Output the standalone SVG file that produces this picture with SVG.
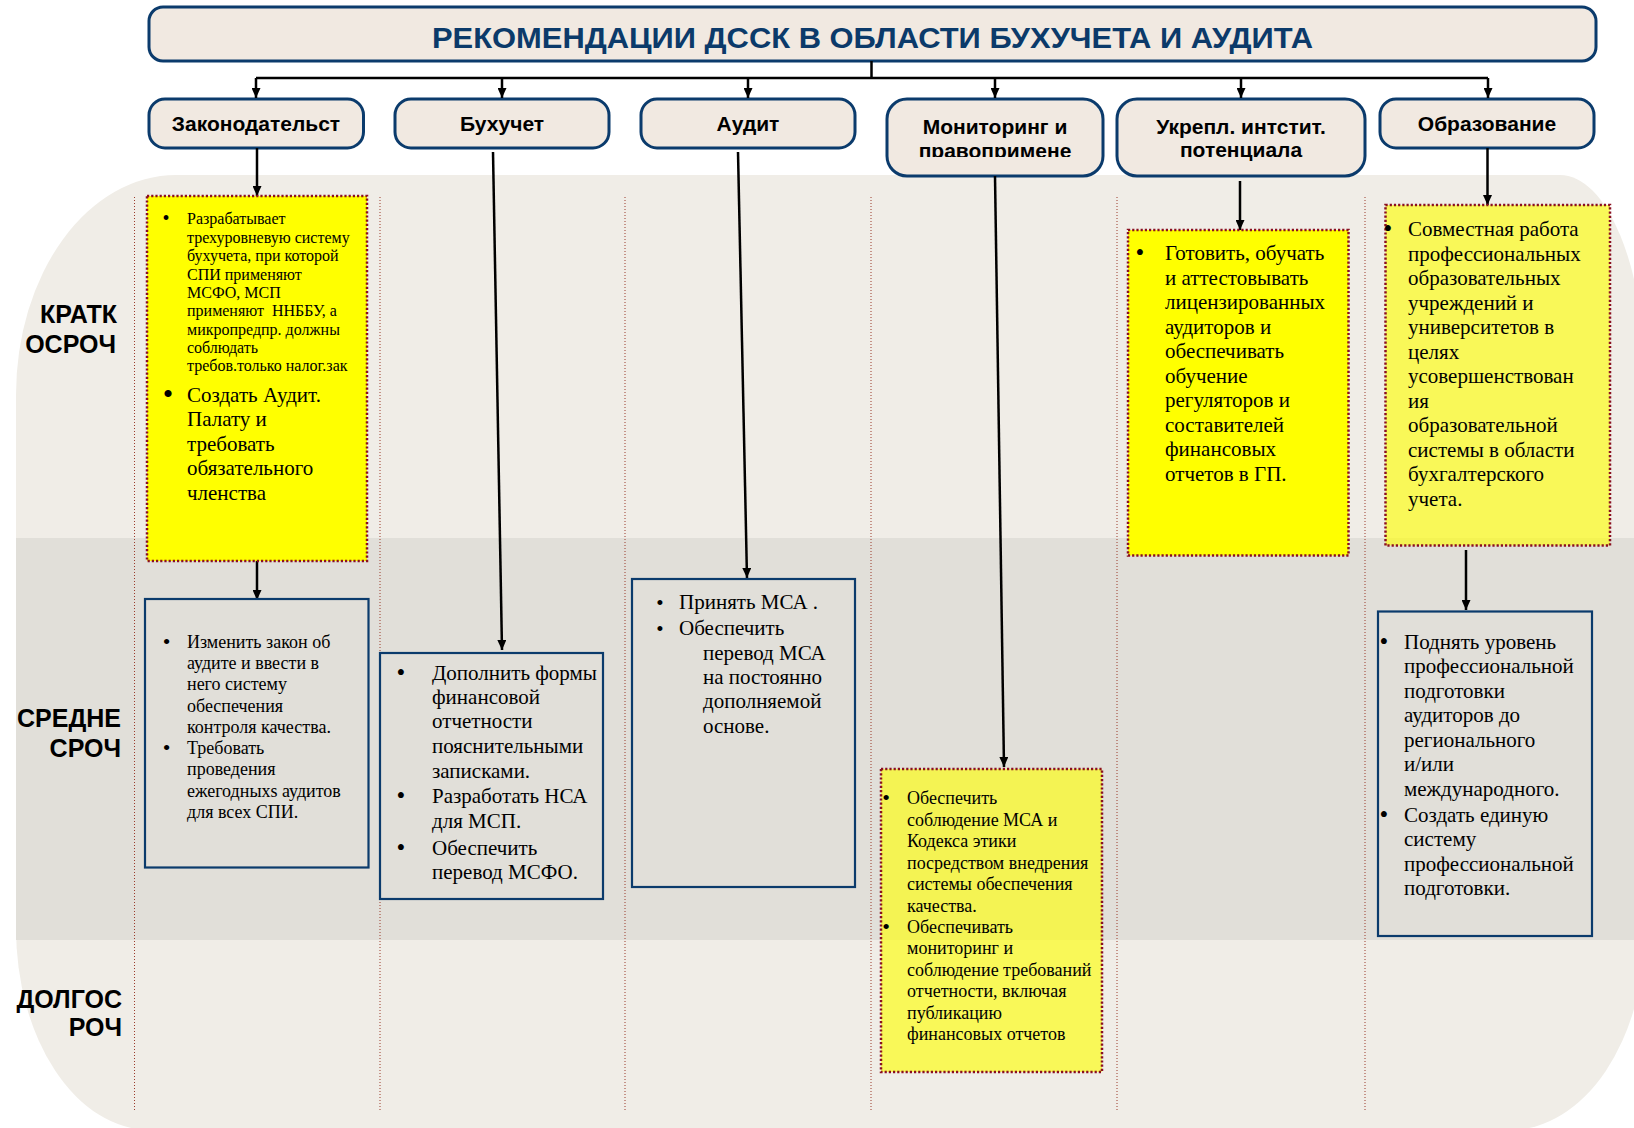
<svg xmlns="http://www.w3.org/2000/svg" width="1634" height="1128" viewBox="0 0 1634 1128">
<defs>
<marker id="ah" markerUnits="userSpaceOnUse" markerWidth="10" markerHeight="9" refX="10" refY="4.5" orient="auto">
<path d="M0,0 L10,4.5 L0,9 Z" fill="#000"/>
</marker>
<clipPath id="clipMon"><rect x="887" y="99" width="216" height="58"/></clipPath>
<style>
.cat{fill:#f1e9e1;stroke:#0b3b6c;stroke-width:3}
.ct{font-family:"Liberation Sans",Arial,sans-serif;font-weight:bold;font-size:21px;fill:#000;text-anchor:middle}
.row{font-family:"Liberation Sans",Arial,sans-serif;font-weight:bold;font-size:25px;fill:#000;text-anchor:end}
.yb{stroke:#8a1020;stroke-width:2.5;stroke-dasharray:2.2 2}
.y1{fill:#ffff00}
.y2{fill:#ffff00;fill-opacity:0.62}
.bb{fill:none;stroke:#0b3b6c;stroke-width:2.2}
.s{font-family:"Liberation Serif","Times New Roman",serif;fill:#000}
.f16{font-size:16px}
.f18{font-size:18px}
.f21{font-size:21px}
.bu{text-anchor:middle}
.b18{font-size:22px}
.b21{font-size:25px}
.sep{stroke:#9a3a2a;stroke-width:1;stroke-dasharray:1 2;fill:none}
.cn{stroke:#000;stroke-width:2.5;fill:none}
.ca{stroke:#000;stroke-width:2.5;fill:none;marker-end:url(#ah)}
</style>
</defs>
<rect x="0" y="0" width="1634" height="1128" fill="#ffffff"/>
<path d="M16,395 A160,220 0 0 1 176,175 L1560,175 A85,205 0 0 1 1645,380 L1645,930 A135,200 0 0 1 1510,1130 L150,1130 A134,202 0 0 1 16,928 Z" fill="#f0ede7"/>
<rect x="16" y="538" width="1630" height="402" fill="#e1dfd9"/>
<g id="separators">
<line class="sep" x1="134.5" y1="197" x2="134.5" y2="1110"/>
<line class="sep" x1="380" y1="197" x2="380" y2="1110"/>
<line class="sep" x1="625" y1="197" x2="625" y2="1110"/>
<line class="sep" x1="871" y1="197" x2="871" y2="1110"/>
<line class="sep" x1="1117" y1="197" x2="1117" y2="1110"/>
<line class="sep" x1="1365" y1="197" x2="1365" y2="1110"/>
</g>
<g id="row-labels">
<text class="row" x="117" y="323">КРАТК</text>
<text class="row" x="116" y="353">ОСРОЧ</text>
<text class="row" x="121" y="727">СРЕДНЕ</text>
<text class="row" x="121" y="757">СРОЧ</text>
<text class="row" x="122" y="1008">ДОЛГОС</text>
<text class="row" x="122" y="1036">РОЧ</text>
</g>
<g id="title">
<rect x="149" y="7" width="1447" height="54" rx="14" fill="#f1e9e1" stroke="#0b3b6c" stroke-width="3"/>
<text x="872.5" y="48" font-family="Liberation Sans, Arial, sans-serif" font-weight="bold" font-size="29" fill="#0b3a6a" text-anchor="middle" textLength="881" lengthAdjust="spacingAndGlyphs">РЕКОМЕНДАЦИИ ДССК В ОБЛАСТИ БУХУЧЕТА И АУДИТА</text>
</g>
<g id="cat-law">
<rect class="cat" x="149" y="99" width="214.5" height="49" rx="16"/>
<text class="ct" x="256" y="131">Законодательст</text>
</g>
<g id="cat-acc">
<rect class="cat" x="395" y="99" width="214" height="49" rx="16"/>
<text class="ct" x="502" y="131">Бухучет</text>
</g>
<g id="cat-audit">
<rect class="cat" x="641" y="99" width="214" height="49" rx="16"/>
<text class="ct" x="748" y="131">Аудит</text>
</g>
<g id="cat-mon">
<rect class="cat" x="887" y="99" width="216" height="77" rx="20"/>
<text class="ct" x="995" y="134">Мониторинг и</text>
<text class="ct" x="995" y="158" clip-path="url(#clipMon)">правоприменe</text>
</g>
<g id="cat-inst">
<rect class="cat" x="1117" y="99" width="248" height="77" rx="20"/>
<text class="ct" x="1241" y="134">Укрепл. интстит.</text>
<text class="ct" x="1241" y="157">потенциала</text>
</g>
<g id="cat-edu">
<rect class="cat" x="1380" y="99" width="214" height="49" rx="16"/>
<text class="ct" x="1487" y="131">Образование</text>
</g>
<g id="connectors">
<path class="cn" d="M871.5,61 V78 M256,78 H1488"/>
<line class="ca" x1="256" y1="78" x2="256" y2="98"/>
<line class="ca" x1="502" y1="78" x2="502" y2="98"/>
<line class="ca" x1="748" y1="78" x2="748" y2="98"/>
<line class="ca" x1="995" y1="78" x2="995" y2="98"/>
<line class="ca" x1="1241" y1="78" x2="1241" y2="98"/>
<line class="ca" x1="1488" y1="78" x2="1488" y2="98"/>
<line class="ca" x1="257" y1="148" x2="257" y2="196"/>
<line class="ca" x1="257" y1="555" x2="257" y2="600"/>
<line x1="257" y1="495" x2="257" y2="515" stroke="#000" stroke-width="1" stroke-dasharray="7 5"/>
<line class="ca" x1="493" y1="152" x2="502" y2="650"/>
<line class="ca" x1="738" y1="152" x2="747" y2="578"/>
<line class="ca" x1="995" y1="176" x2="1004" y2="767"/>
<line class="ca" x1="1240" y1="181" x2="1240" y2="230"/>
<line class="ca" x1="1487.5" y1="148" x2="1487.5" y2="205"/>
<line class="ca" x1="1466" y1="550" x2="1466" y2="610"/>
</g>
<g id="box-law-short">
<rect class="y1 yb" x="147" y="196" width="220" height="365"/>
<text class="s bu" x="166" y="225" font-size="20">•</text>
<text class="s f16" x="187" y="224">Разрабатывает</text>
<text class="s f16" x="187" y="242.5">трехуровневую систему</text>
<text class="s f16" x="187" y="261">бухучета, при которой</text>
<text class="s f16" x="187" y="279.5">СПИ применяют</text>
<text class="s f16" x="187" y="298">МСФО, МСП</text>
<text class="s f16" x="187" y="316" xml:space="preserve">применяют  ННББУ, а</text>
<text class="s f16" x="187" y="334.5">микропредпр. должны</text>
<text class="s f16" x="187" y="353">соблюдать</text>
<text class="s f16" x="187" y="371">требов.только налог.зак</text>
<text class="s bu" x="168" y="404" font-size="30">•</text>
<text class="s f21" x="187" y="401.7">Создать Аудит.</text>
<text class="s f21" x="187" y="426">Палату и</text>
<text class="s f21" x="187" y="450.7">требовать</text>
<text class="s f21" x="187" y="475">обязательного</text>
<text class="s f21" x="187" y="500">членства</text>
</g>
<g id="box-law-mid">
<rect class="bb" x="145" y="599" width="223.5" height="268.5"/>
<text class="s b18 bu" x="166.5" y="649">•</text>
<text class="s f18" x="187" y="648">Изменить закон об</text>
<text class="s f18" x="187" y="669">аудите и ввести в</text>
<text class="s f18" x="187" y="690">него систему</text>
<text class="s f18" x="187" y="711.5">обеспечения</text>
<text class="s f18" x="187" y="732.5">контроля качества.</text>
<text class="s b18 bu" x="166.5" y="755">•</text>
<text class="s f18" x="187" y="754">Требовать</text>
<text class="s f18" x="187" y="775">проведения</text>
<text class="s f18" x="187" y="796.5">ежегодныхs аудитов</text>
<text class="s f18" x="187" y="817.5">для всех СПИ.</text>
</g>
<g id="box-acc-mid">
<rect class="bb" x="380" y="653" width="223" height="246"/>
<text class="s b21 bu" x="401" y="681">•</text>
<text class="s f21" x="432" y="680">Дополнить формы</text>
<text class="s f21" x="432" y="704">финансовой</text>
<text class="s f21" x="432" y="728">отчетности</text>
<text class="s f21" x="432" y="753">пояснительными</text>
<text class="s f21" x="432" y="778">записками.</text>
<text class="s b21 bu" x="401" y="804">•</text>
<text class="s f21" x="432" y="803">Разработать НСА</text>
<text class="s f21" x="432" y="827.5">для МСП.</text>
<text class="s b21 bu" x="401" y="856">•</text>
<text class="s f21" x="432" y="855">Обеспечить</text>
<text class="s f21" x="432" y="879">перевод МСФО.</text>
</g>
<g id="box-audit-mid">
<rect class="bb" x="632" y="579" width="223" height="308"/>
<text class="s bu" x="660" y="610" font-size="21">•</text>
<text class="s f21" x="679" y="609">Принять МСА .</text>
<text class="s bu" x="660" y="636" font-size="21">•</text>
<text class="s f21" x="679" y="635">Обеспечить</text>
<text class="s f21" x="703" y="660">перевод МСА</text>
<text class="s f21" x="703" y="684">на постоянно</text>
<text class="s f21" x="703" y="708">дополняемой</text>
<text class="s f21" x="703" y="732.5">основе.</text>
</g>
<g id="box-mon">
<rect class="y2 yb" x="881" y="769" width="221" height="303"/>
<text class="s b18 bu" x="886" y="805">•</text>
<text class="s f18" x="907" y="804">Обеспечить</text>
<text class="s f18" x="907" y="825.5">соблюдение МСА и</text>
<text class="s f18" x="907" y="847">Кодекса этики</text>
<text class="s f18" x="907" y="869">посредством внедрения</text>
<text class="s f18" x="907" y="890">системы обеспечения</text>
<text class="s f18" x="907" y="911.5">качества.</text>
<text class="s b18 bu" x="886" y="934">•</text>
<text class="s f18" x="907" y="933">Обеспечивать</text>
<text class="s f18" x="907" y="954">мониторинг и</text>
<text class="s f18" x="907" y="976">соблюдение требований</text>
<text class="s f18" x="907" y="997">отчетности, включая</text>
<text class="s f18" x="907" y="1019">публикацию</text>
<text class="s f18" x="907" y="1040">финансовых отчетов</text>
</g>
<g id="box-inst">
<rect class="y1 yb" x="1128" y="230" width="220.5" height="325.5"/>
<text class="s b21 bu" x="1140" y="261">•</text>
<text class="s f21" x="1165" y="260">Готовить, обучать</text>
<text class="s f21" x="1165" y="284.5">и аттестовывать</text>
<text class="s f21" x="1165" y="309">лицензированных</text>
<text class="s f21" x="1165" y="333.5">аудиторов и</text>
<text class="s f21" x="1165" y="358">обеспечивать</text>
<text class="s f21" x="1165" y="382.5">обучение</text>
<text class="s f21" x="1165" y="407">регуляторов и</text>
<text class="s f21" x="1165" y="431.5">составителей</text>
<text class="s f21" x="1165" y="456">финансовых</text>
<text class="s f21" x="1165" y="480.5">отчетов в ГП.</text>
</g>
<g id="box-edu-short">
<rect class="y2 yb" x="1385.5" y="205" width="224.5" height="340.5"/>
<text class="s b21 bu" x="1388" y="237">•</text>
<text class="s f21" x="1408" y="236">Совместная работа</text>
<text class="s f21" x="1408" y="260.5">профессиональных</text>
<text class="s f21" x="1408" y="285">образовательных</text>
<text class="s f21" x="1408" y="309.5">учреждений и</text>
<text class="s f21" x="1408" y="334">университетов в</text>
<text class="s f21" x="1408" y="358.5">целях</text>
<text class="s f21" x="1408" y="383">усовершенствован</text>
<text class="s f21" x="1408" y="407.5">ия</text>
<text class="s f21" x="1408" y="432">образовательной</text>
<text class="s f21" x="1408" y="456.5">системы в области</text>
<text class="s f21" x="1408" y="481">бухгалтерского</text>
<text class="s f21" x="1408" y="505.5">учета.</text>
</g>
<g id="box-edu-mid">
<rect class="bb" x="1378" y="611.5" width="214" height="324.5"/>
<text class="s b21 bu" x="1384" y="650">•</text>
<text class="s f21" x="1404" y="649">Поднять уровень</text>
<text class="s f21" x="1404" y="673">профессиональной</text>
<text class="s f21" x="1404" y="697.5">подготовки</text>
<text class="s f21" x="1404" y="722">аудиторов до</text>
<text class="s f21" x="1404" y="746.5">регионального</text>
<text class="s f21" x="1404" y="771">и/или</text>
<text class="s f21" x="1404" y="795.5">международного.</text>
<text class="s b21 bu" x="1384" y="822.5">•</text>
<text class="s f21" x="1404" y="821.5">Создать единую</text>
<text class="s f21" x="1404" y="846">систему</text>
<text class="s f21" x="1404" y="870.5">профессиональной</text>
<text class="s f21" x="1404" y="895">подготовки.</text>
</g>
</svg>
